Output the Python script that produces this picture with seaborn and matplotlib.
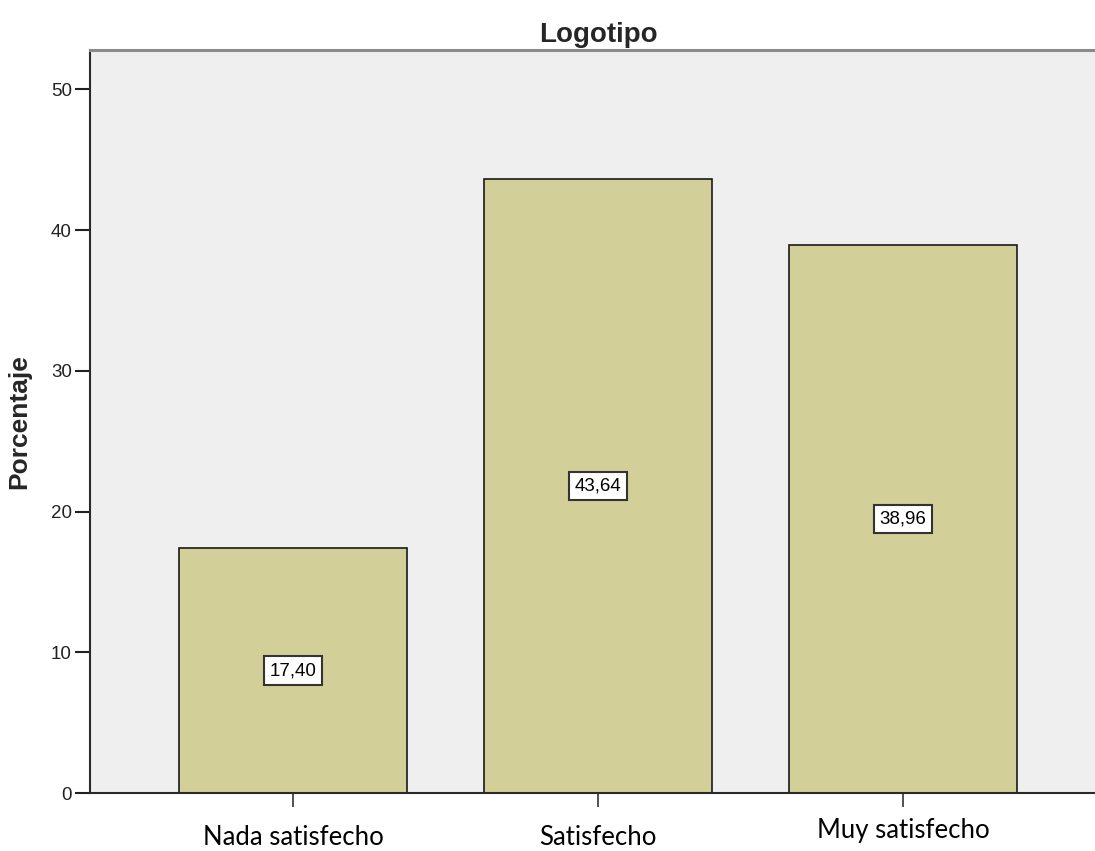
import matplotlib
matplotlib.use("Agg")
import matplotlib.pyplot as plt
import matplotlib.transforms as mtransforms
import seaborn as sns
import pandas as pd

# Data
categories = ["Nada satisfecho", "Satisfecho", "Muy satisfecho"]
percentages = [17.40, 43.64, 38.96]
value_labels = ["17,40", "43,64", "38,96"]
y_ticks = [0, 10, 20, 30, 40, 50]

df = pd.DataFrame({"categoria": categories, "porcentaje": percentages})

sns.set_theme(style="white")
plt.rcParams["font.family"] = ["Liberation Sans", "DejaVu Sans"]

fig = plt.figure(figsize=(10.95, 8.51), dpi=100)
ax = fig.add_axes([90 / 1095, 58 / 851, 1016 / 1095, 743 / 851])
ax.set_facecolor("#EFEFEF")

sns.barplot(data=df, x="categoria", y="porcentaje", color="#D3CF98",
            saturation=1, edgecolor="#1a1a1a", linewidth=1.2, width=0.75,
            ax=ax, zorder=2)

ax.set_xlim(-0.666, 2.666)
ax.set_ylim(0, 52.8)
ax.set_yticks(y_ticks)
ax.set_yticklabels([str(t) for t in y_ticks], fontsize=13.5, color="#222222")

# value boxes centred in each bar
for i, (v, lab) in enumerate(zip(percentages, value_labels)):
    ax.text(i, v / 2, lab, ha="center", va="center", fontsize=13.5,
            color="black", zorder=4,
            bbox=dict(boxstyle="square,pad=0.3", facecolor="white",
                      edgecolor="#333333", linewidth=1.5))

# category labels
ax.set_xticks(range(len(categories)))
ax.set_xticklabels(categories, fontsize=18.5, family=["Lato", "DejaVu Sans"],
                   color="black")
ax.tick_params(axis="x", which="major", direction="out", length=10, width=1.2,
               color="#333333", pad=13, bottom=True)
ax.tick_params(axis="y", which="major", direction="out", length=11, width=1.5,
               color="#222222", pad=2, left=True)
last = ax.get_xticklabels()[-1]
last.set_transform(last.get_transform() +
                   mtransforms.ScaledTranslation(0, 7 / 100, fig.dpi_scale_trans))

ax.set_xlabel("")
ax.set_ylabel("Porcentaje", fontsize=19, fontweight="bold", labelpad=14)
ax.set_title("Logotipo", fontsize=20, fontweight="bold", pad=6)

for side in ["left", "bottom"]:
    ax.spines[side].set_color("#2a2a2a")
    ax.spines[side].set_linewidth(1.5)
ax.spines["top"].set_color("#8a8a8a")
ax.spines["top"].set_linewidth(2.2)
ax.spines["right"].set_visible(False)

fig.savefig("out.png", dpi=100, facecolor="white")
